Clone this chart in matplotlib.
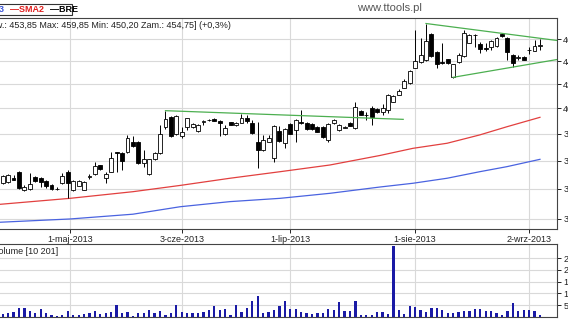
import matplotlib
matplotlib.use("Agg")
import matplotlib.pyplot as plt
from matplotlib.patches import Rectangle
from matplotlib.ticker import NullLocator

plt.rcParams['font.family'] = ['Liberation Sans', 'DejaVu Sans']

# session index, 0 = first candle of May 2013
days = list(range(-12, 88))

opens = [344.3, 344.5, 347.4, 352.0, 339.3, 340.0, 348.5, 347.8, 345.7, 342.7, 340.2, 344.1,
         352.0, 339.3, 342.2, 339.3, 348.2, 350.2, 356.6, 347.8, 352.0, 366.2, 365.5, 366.2,
         374.0, 373.6, 358.4, 350.4, 361.0, 365.9, 384.9, 393.3, 379.6, 378.3, 385.2, 385.2,
         382.2, 389.3, 390.5, 391.5, 390.1, 379.6, 389.0, 386.5, 388.6, 392.0, 388.5, 374.0,
         367.8, 374.0, 361.6, 382.3, 373.3, 387.6, 382.9, 389.4, 388.6, 387.6, 385.5, 385.1,
         375.3, 388.1, 382.9, 384.8, 388.5, 384.3, 397.5, 394.5, 400.6, 399.5, 397.4, 398.7,
         405.4, 411.3, 417.1, 420.9, 434.1, 438.9, 440.9, 464.7, 448.4, 439.4, 441.5, 425.8,
         438.9, 444.8, 456.6, 463.5, 455.1, 451.4, 452.4, 453.5, 464.7, 460.6, 445.4, 443.0,
         443.9, 449.6, 449.3, 453.85]
highs = [350.0, 350.5, 349.7, 352.5, 342.5, 351.0, 349.2, 348.5, 346.2, 343.5, 341.0, 351.0,
         353.0, 346.5, 346.0, 345.5, 350.4, 358.7, 357.0, 352.0, 366.2, 366.5, 366.0, 379.1,
         378.3, 374.5, 367.8, 361.5, 366.0, 386.8, 398.1, 394.0, 394.5, 385.5, 392.5, 388.5,
         387.5, 390.7, 391.5, 392.0, 391.0, 386.8, 389.5, 389.5, 395.3, 394.7, 390.7, 389.4,
         379.1, 379.1, 386.5, 385.6, 384.5, 388.0, 391.5, 398.7, 389.5, 388.5, 386.0, 385.6,
         388.5, 391.5, 387.5, 385.8, 389.0, 405.4, 398.5, 397.0, 401.5, 400.0, 403.5, 411.5,
         410.5, 415.9, 424.1, 432.0, 468.4, 460.6, 474.6, 465.5, 449.0, 456.0, 442.0, 437.5,
         446.9, 468.4, 464.5, 464.5, 457.5, 456.6, 459.5, 461.5, 465.3, 461.5, 446.0, 445.4,
         444.5, 452.9, 459.1, 459.85]
lows = [343.5, 344.0, 346.0, 340.0, 338.8, 339.5, 345.0, 341.5, 340.4, 339.5, 339.5, 343.5,
        333.7, 338.8, 341.8, 339.0, 346.9, 349.5, 353.5, 343.9, 351.5, 352.0, 353.2, 365.5,
        370.0, 357.5, 355.6, 349.7, 360.5, 365.0, 384.0, 377.5, 379.0, 376.5, 382.9, 384.5,
        381.5, 386.8, 389.8, 389.8, 378.3, 379.0, 386.5, 386.0, 388.0, 388.3, 380.0, 354.8,
        367.0, 373.5, 359.2, 374.0, 369.0, 379.5, 374.0, 387.5, 383.0, 383.0, 381.0, 376.6,
        373.5, 387.5, 382.5, 384.3, 386.0, 383.5, 394.5, 390.7, 386.8, 396.5, 394.7, 396.5,
        405.0, 410.8, 416.5, 420.0, 433.5, 438.0, 440.0, 444.0, 433.6, 437.5, 437.5, 425.2,
        438.0, 444.0, 456.0, 452.9, 446.9, 449.0, 449.9, 453.0, 462.0, 440.9, 434.6, 441.0,
        440.5, 446.0, 448.8, 450.20]
closes = [349.0, 349.5, 346.5, 340.4, 341.5, 343.4, 345.5, 345.0, 342.2, 340.0, 339.8, 349.0,
          344.3, 345.5, 345.5, 345.0, 348.8, 356.3, 353.9, 350.2, 361.8, 365.6, 359.7, 377.0,
          370.8, 358.1, 360.9, 360.9, 365.3, 379.6, 391.3, 378.3, 393.9, 381.4, 392.0, 387.6,
          386.8, 389.9, 391.0, 390.2, 388.3, 384.2, 387.0, 388.5, 392.0, 390.2, 380.8, 367.8,
          375.3, 376.6, 385.6, 374.8, 383.9, 380.0, 390.7, 388.1, 383.5, 383.5, 381.6, 377.8,
          387.6, 390.7, 386.8, 385.2, 386.3, 401.0, 395.0, 395.0, 393.4, 397.1, 400.6, 410.9,
          409.7, 414.3, 422.6, 431.5, 439.9, 445.4, 458.2, 444.5, 437.1, 438.0, 438.0, 437.1,
          445.4, 465.3, 463.7, 463.9, 450.5, 450.6, 458.5, 460.6, 462.8, 448.4, 438.6, 443.6,
          440.9, 450.2, 453.5, 454.75]
volumes = [13000, 17000, 21000, 38000, 38000, 24000, 17000, 35000, 17000, 10000, 5500, 7000,
           24000, 7000, 10000, 13000, 17000, 27000, 13000, 17000, 21000, 52000, 17000, 21000,
           3000, 17000, 17000, 31000, 17000, 27000, 7000, 17000, 52000, 21000, 17000, 17000,
           17000, 21000, 31000, 48000, 31000, 35000, 7000, 52000, 21000, 38000, 69000, 89000,
           17000, 21000, 31000, 48000, 67000, 35000, 35000, 21000, 17000, 14000, 17000, 17000,
           34000, 31000, 64000, 27000, 27000, 69000, 10000, 7000, 10000, 20000, 21000, 13000,
           300000, 31000, 14000, 45000, 41000, 28000, 21000, 38000, 38000, 31000, 17000, 17000,
           21000, 27000, 24000, 34000, 34000, 24000, 27000, 17000, 10000, 27000, 60000, 27000,
           31000, 31000, 27000, 10201]

# moving averages read at a few sessions
ma_days = [-12.5, 0.4, 12, 20.7, 29.9, 39.1, 48.3, 57.5, 63.6, 69.9, 75.9, 80.9, 87]
sma_red = [329.6, 333.6, 338.1, 342.4, 347.4, 352.0, 356.8, 363.7, 369.0, 372.8, 379.1, 385.4, 392.8]
sma_blue = [317.9, 320.0, 323.1, 328.0, 331.4, 333.6, 337.0, 341.3, 343.9, 347.4, 352.0, 355.6, 360.9]

# trend lines
flat_days, flat_vals = [18, 61.8], [398.1, 391.2]
upper_days, upper_vals = [66, 90.2], [474.6, 458.6]
lower_days, lower_vals = [71, 90.2], [425.8, 441.4]

tick_days = [0.4, 21, 41, 64, 85]
tick_labels = ["1-maj-2013", "3-cze-2013", "1-lip-2013", "1-sie-2013", "2-wrz-2013"]
price_ticks = [320, 340, 360, 380, 400, 420, 440, 460]
vol_ticks = [50000, 100000, 150000, 200000, 250000]

W, H = 568, 320
fig = plt.figure(figsize=(W / 100, H / 100), dpi=100)
fig.patch.set_facecolor('white')

def fx(px):
    return px / W

def fy(py):
    return 1 - py / H

ax = fig.add_axes([0, fy(229), fx(557), (229 - 18) / H])
axv = fig.add_axes([0, fy(317), fx(557), (317 - 244) / H])

grid_c = '#d9d9d9'
edge_c = '#444444'

# price panel
ax.set_yscale('log')
for d, o, h, l, c in zip(days, opens, highs, lows, closes):
    ax.vlines(d, l, h, color='black', lw=0.7, zorder=3)
    body = max(abs(c - o), 0.15)
    ax.bar(d, body, bottom=min(o, c), width=0.72,
           color='white' if c >= o else 'black', edgecolor='black', lw=0.6, zorder=4)

ax.plot(ma_days, sma_red, color='#e2403f', lw=0.9, zorder=2)
ax.plot(ma_days, sma_blue, color='#4a63e0', lw=0.9, zorder=2)
for td, tv in [(flat_days, flat_vals), (upper_days, upper_vals), (lower_days, lower_vals)]:
    ax.plot(td, tv, color='#4caf50', lw=0.9, zorder=5)

ax.set_xlim(-12.49, 90.14)
ax.set_ylim(313.6, 479.9)
ax.yaxis.tick_right()
ax.set_yticks(price_ticks)
ax.set_yticklabels([str(p) for p in price_ticks])
ax.yaxis.set_minor_locator(NullLocator())
ax.set_xticks(tick_days)
ax.set_xticklabels(tick_labels)
ax.tick_params(labelsize=6.5, length=3, pad=1.5, colors='#222222', width=0.7)
ax.grid(True, color=grid_c, lw=0.8)
ax.set_axisbelow(True)
ax.spines['left'].set_visible(False)
for s in ['top', 'right', 'bottom']:
    ax.spines[s].set_color(edge_c)
    ax.spines[s].set_linewidth(0.8)

# volume panel
axv.bar(days, volumes, width=0.42, color='#1a1aa5', zorder=3)
axv.set_xlim(-12.49, 90.14)
axv.set_ylim(0, 310000)
axv.yaxis.tick_right()
axv.set_yticks(vol_ticks)
axv.set_yticklabels([str(v) for v in vol_ticks])
axv.set_xticks(tick_days)
axv.set_xticklabels([])
axv.tick_params(axis='x', length=0)
axv.tick_params(axis='y', labelsize=6.5, length=3, pad=1.5, colors='#222222', width=0.7)
axv.grid(True, color=grid_c, lw=0.8)
axv.set_axisbelow(True)
axv.spines['left'].set_visible(False)
for s in ['top', 'right', 'bottom']:
    axv.spines[s].set_color(edge_c)
    axv.spines[s].set_linewidth(0.8)

# header texts
fig.add_artist(Rectangle((fx(-60), fy(15)), fx(132), 11 / H, transform=fig.transFigure,
                         fill=False, ec='#333333', lw=0.8))
fig.text(fx(4), fy(9.5), "\u2014SMA3", color='#3a55d8', fontsize=6.5, fontweight='bold',
         ha='right', va='center')
fig.text(fx(10), fy(9.5), "\u2014SMA2", color='#e02020', fontsize=6.5, fontweight='bold',
         ha='left', va='center')
fig.text(fx(50), fy(9.5), "\u2014BRE", color='black', fontsize=6.5, fontweight='bold',
         ha='left', va='center')
fig.text(fx(231), fy(25), "[Otw.: 453,85 Max: 459,85 Min: 450,20 Zam.: 454,75] (+0,3%)",
         fontsize=6.5, color='#222222', ha='right', va='center')
fig.text(fx(389), fy(8), "www.ttools.pl", fontsize=8, color='#555555', ha='center', va='center')
fig.text(fx(58), fy(251), "Volume [10 201]", fontsize=6.5, color='#222222', ha='right', va='center')

plt.savefig("out.png", dpi=100)
